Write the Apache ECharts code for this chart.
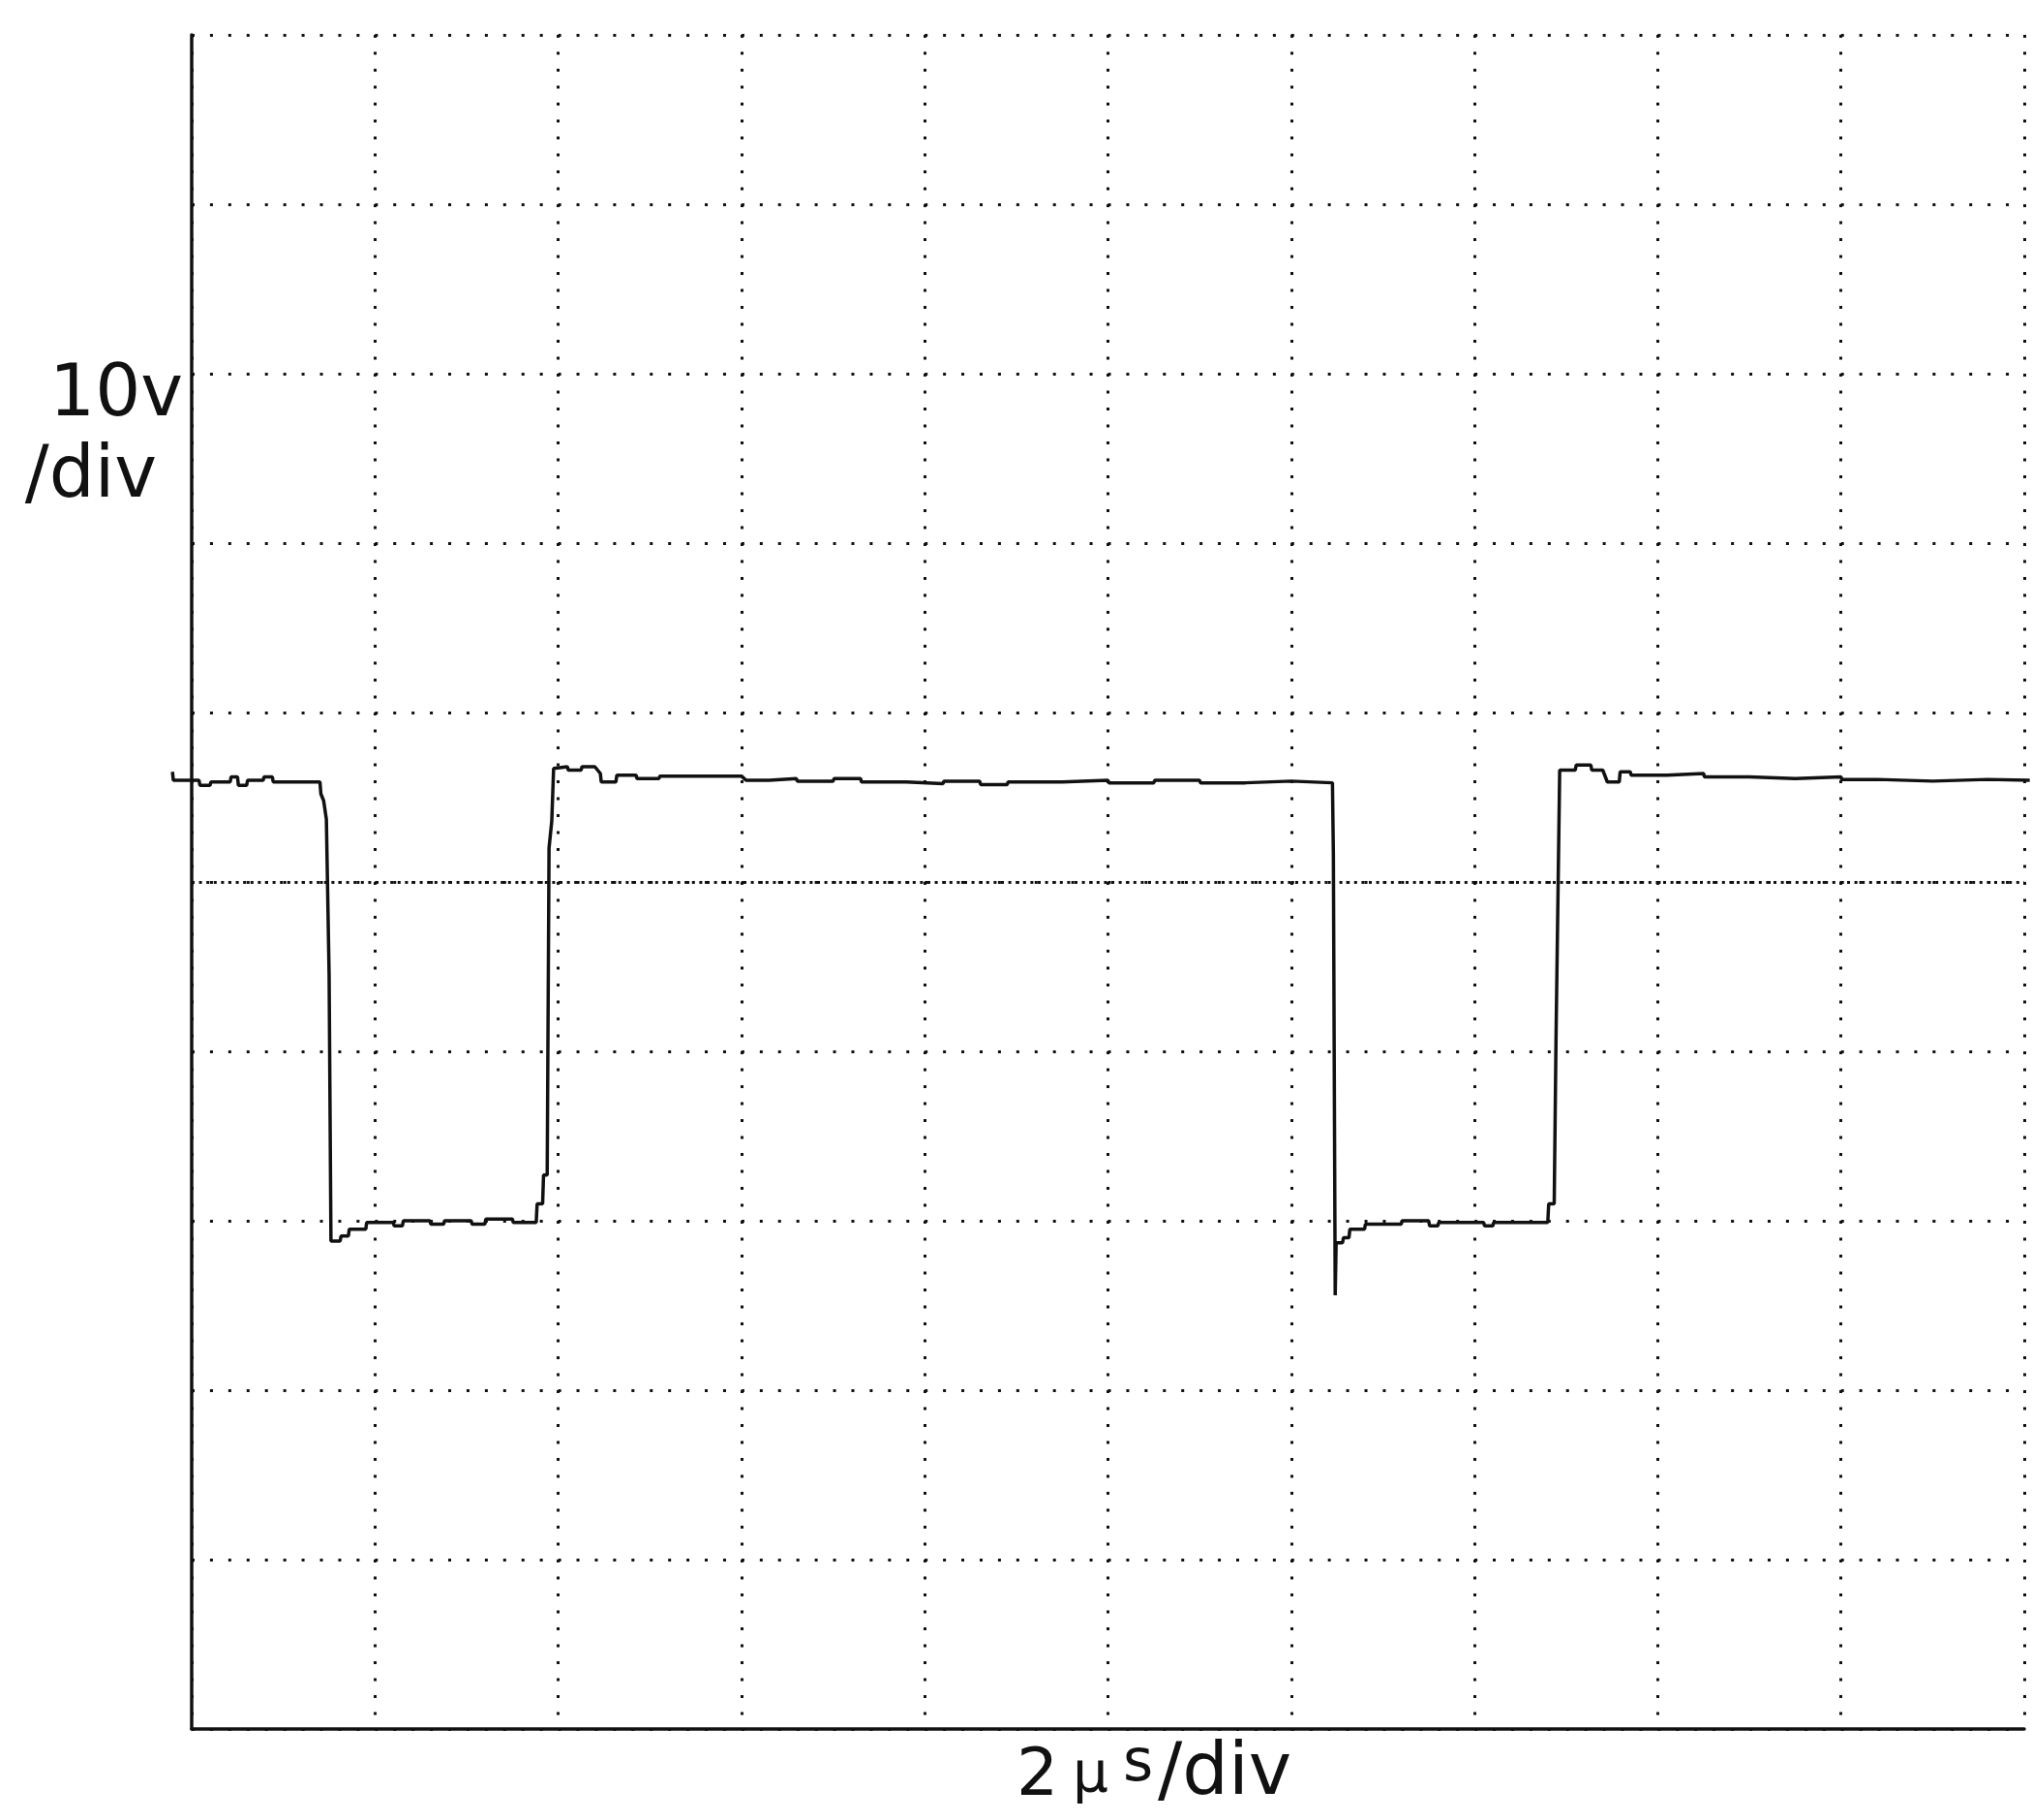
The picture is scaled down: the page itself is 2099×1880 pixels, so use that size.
<!DOCTYPE html>
<html><head><meta charset="utf-8">
<script src="https://cdn.jsdelivr.net/npm/echarts/dist/echarts.min.js"></script>
<style>html,body{margin:0;padding:0;background:#fff}#c{width:2099px;height:1880px}</style>
</head><body><div id="c"></div>
<script>
// Oscilloscope trace: time in microseconds, voltage in volts
const timeUs = [
 -0.21,-0.20,-0.02,0.08,0.09,0.20,0.21,0.42,0.43,0.50,0.51,0.60,0.61,0.78,0.79,0.88,0.89,1.40,1.41,1.44,1.47,1.49,1.50,1.52,
 1.52,1.62,1.63,1.71,1.72,1.90,1.91,2.20,2.21,2.30,2.31,2.60,2.61,2.75,2.76,3.05,3.06,3.20,3.21,3.50,3.51,3.76,3.77,3.83,3.84,3.88,3.90,3.93,
 3.95,4.10,4.11,4.25,4.26,4.40,4.46,4.47,4.63,4.64,4.85,4.86,5.10,5.11,6.00,6.05,6.30,6.31,6.60,6.61,7.00,7.01,7.30,7.31,7.80,7.81,8.20,8.21,
 8.60,8.61,8.90,8.91,9.50,9.51,10.00,10.01,10.50,10.51,11.00,11.01,11.50,11.51,12.00,12.01,12.45,12.46,12.48,
 12.48,12.49,12.56,12.57,12.63,12.64,12.80,12.81,13.20,13.21,13.50,13.51,13.60,13.61,14.10,14.11,14.20,14.21,14.80,14.81,14.87,14.89,14.91,
 14.93,15.10,15.11,15.27,15.28,15.40,15.45,15.58,15.59,15.70,15.71,16.10,16.11,16.50,16.51,17.00,17.01,17.50,17.51,18.00,18.01,18.40,18.41,
 19.00,19.01,19.60,19.61,20.06
];
const voltsV = [
 6.5,6.0,6.0,6.0,5.7,5.7,5.9,5.9,6.2,6.2,5.7,5.7,6.0,6.0,6.2,6.2,5.9,5.9,5.2,4.8,3.7,3.7,-5.5,-5.5,
 -21.2,-21.2,-20.9,-20.9,-20.5,-20.5,-20.1,-20.1,-20.3,-20.3,-20.0,-20.0,-20.2,-20.2,-20.0,-20.0,-20.2,-20.2,-19.9,-19.9,-20.1,-20.1,-19.0,-19.0,-17.3,-17.3,2.0,3.6,
 6.7,6.8,6.6,6.6,6.8,6.8,6.4,5.9,5.9,6.3,6.3,6.1,6.1,6.25,6.25,6.0,6.0,6.1,6.1,5.95,5.95,6.1,6.1,5.9,5.9,5.8,5.8,5.95,
 5.95,5.75,5.75,5.9,5.9,6.0,6.0,5.85,5.85,6.0,6.0,5.85,5.85,5.95,5.95,5.85,5.85,1.6,1.6,
 -24.4,-21.3,-21.3,-21.0,-21.0,-20.5,-20.5,-20.2,-20.2,-20.0,-20.0,-20.3,-20.3,-20.1,-20.1,-20.3,-20.3,-20.1,-20.1,-19.0,-19.0,-9.2,-9.2,
 6.6,6.6,6.9,6.9,6.6,6.6,5.9,5.9,6.5,6.5,6.3,6.3,6.4,6.4,6.2,6.2,6.1,6.1,6.2,6.2,6.05,6.05,5.95,
 5.95,6.05,6.05,6.0,6.0
];
const xRange = [0, 20];   // 2 us/div, 10 divisions
const xStep = 2;
const yRange = [-50, 50]; // 10 V/div, 10 divisions
const yStep = 10;
const centerLineV = [0];
const yScaleLabel = ['10v', '/div'];
const xScaleLabel = ['2', 'µ', 's', '/div'];

// layout (pixels)
const G = {left: 198, right: 8, top: 36, bottom: 94};
const W = 2099, H = 1880;
const plotW = W - G.left - G.right;
const pxPerUs = plotW / (xRange[1] - xRange[0]);
// the trace grid extends a little past the graticule (trace starts before the left edge)
const traceGrid = {left: 178, right: 0, top: G.top, bottom: G.bottom};
const traceMin = xRange[0] - (G.left - traceGrid.left) / pxPerUs;
const traceMax = xRange[1] + (G.right - traceGrid.right) / pxPerUs;

const chart = echarts.init(document.getElementById('c'), null, {renderer: 'canvas'});
const ink = '#111';
const font = '"DejaVu Sans", sans-serif';
chart.setOption({
  animation: false,
  backgroundColor: '#fff',
  grid: [G, traceGrid],
  xAxis: [{
    type: 'value', gridIndex: 0, min: xRange[0], max: xRange[1], interval: xStep,
    axisLine: {show: true, onZero: false, lineStyle: {color: ink, width: 3.5}},
    axisTick: {show: false}, axisLabel: {show: false},
    splitLine: {show: true, lineStyle: {color: ink, width: 3, type: [3, 14.5]}}
  }, {
    type: 'value', gridIndex: 1, min: traceMin, max: traceMax, show: false
  }],
  yAxis: [{
    type: 'value', gridIndex: 0, min: yRange[0], max: yRange[1], interval: yStep,
    axisLine: {show: true, onZero: false, lineStyle: {color: ink, width: 3.5}},
    axisTick: {show: false}, axisLabel: {show: false},
    splitLine: {show: true, lineStyle: {color: ink, width: 3, type: [3, 15.93]}}
  }, {
    type: 'value', gridIndex: 1, min: yRange[0], max: yRange[1], show: false
  }],
  series: [{
    type: 'line', xAxisIndex: 0, yAxisIndex: 0, data: [],
    markLine: {
      silent: true, symbol: 'none', label: {show: false},
      lineStyle: {color: ink, width: 3, type: [3, 4.6]},
      data: centerLineV.map(v => ({yAxis: v}))
    }
  }, {
    type: 'line', xAxisIndex: 1, yAxisIndex: 1,
    data: timeUs.map((t, i) => [t, voltsV[i]]),
    symbol: 'none', showSymbol: false, clip: false,
    lineStyle: {color: ink, width: 3.5}
  }],
  graphic: [
    {type: 'text', x: 189, y: 410, style: {text: yScaleLabel[0], font: '74px ' + font, fill: ink, align: 'right', verticalAlign: 'middle'}},
    {type: 'text', x: 162, y: 494, style: {text: yScaleLabel[1], font: '74px ' + font, fill: ink, align: 'right', verticalAlign: 'middle'}},
    {type: 'text', x: 1050, y: 1836, style: {text: xScaleLabel[0], font: '68px ' + font, fill: ink, align: 'left', verticalAlign: 'middle'}},
    {type: 'text', x: 1108, y: 1836, style: {text: xScaleLabel[1], font: '58px ' + font, fill: ink, align: 'left', verticalAlign: 'middle'}},
    {type: 'text', x: 1160, y: 1823, style: {text: xScaleLabel[2], font: '60px ' + font, fill: ink, align: 'left', verticalAlign: 'middle'}},
    {type: 'text', x: 1196, y: 1834, style: {text: xScaleLabel[3], font: '75px ' + font, fill: ink, align: 'left', verticalAlign: 'middle'}}
  ]
});
</script></body></html>
